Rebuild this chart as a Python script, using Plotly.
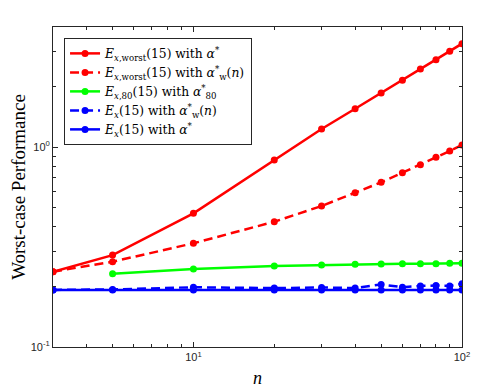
import plotly.graph_objects as go

n = [3, 5, 10, 20, 30, 40, 50, 60, 70, 80, 90, 100]
n_80 = n[1:]

worst_alpha_star = [0.238, 0.288, 0.466, 0.861, 1.23, 1.554, 1.862, 2.155, 2.455, 2.733, 3.01, 3.285]
worst_alpha_w = [0.238, 0.267, 0.330, 0.423, 0.507, 0.591, 0.666, 0.744, 0.816, 0.888, 0.955, 1.023]
e80_alpha_80 = [0.2325, 0.2455, 0.254, 0.257, 0.259, 0.260, 0.261, 0.261, 0.261, 0.262, 0.262]
ex_alpha_w = [0.193, 0.194, 0.199, 0.197, 0.1985, 0.197, 0.2055, 0.199, 0.202, 0.203, 0.202, 0.207]
ex_alpha_star = [0.193, 0.193, 0.193, 0.193, 0.193, 0.193, 0.193, 0.193, 0.193, 0.193, 0.193, 0.193]

names = [
    "<i>E</i><sub><i>x</i>,worst</sub>(15) with <i>α</i><sup>*</sup>",
    "<i>E</i><sub><i>x</i>,worst</sub>(15) with <i>α</i><sup>*</sup><sub>w</sub>(<i>n</i>)",
    "<i>E</i><sub><i>x</i>,80</sub>(15) with <i>α</i><sup>*</sup><sub>80</sub>",
    "<i>E</i><sub><i>x</i></sub>(15) with <i>α</i><sup>*</sup><sub>w</sub>(<i>n</i>)",
    "<i>E</i><sub><i>x</i></sub>(15) with <i>α</i><sup>*</sup>",
]

DASH = "9px,5px"
series = [
    (n, worst_alpha_star, "#ff0000", "solid"),
    (n, worst_alpha_w, "#ff0000", DASH),
    (n_80, e80_alpha_80, "#00ff00", "solid"),
    (n, ex_alpha_w, "#0000ff", DASH),
    (n, ex_alpha_star, "#0000ff", "solid"),
]

fig = go.Figure()
for (xs, ys, col, dash), name in zip(series, names):
    fig.add_trace(go.Scatter(
        x=xs, y=ys, name=name, mode="lines+markers",
        line=dict(color=col, width=2.5, dash=dash),
        marker=dict(color=col, size=7),
    ))

axis_col = "#262626"
minor_x = [4, 5, 6, 7, 8, 9, 20, 30, 40, 50, 60, 70, 80, 90]
minor_y = [0.2, 0.3, 0.4, 0.5, 0.6, 0.7, 0.8, 0.9, 2, 3, 4]

fig.update_xaxes(
    type="log", range=[0.4771, 2], showgrid=False, zeroline=False,
    showline=True, linecolor=axis_col, linewidth=1, mirror="allticks",
    ticks="inside", ticklen=5, tickcolor=axis_col,
    tickmode="array", tickvals=[10, 100], ticktext=["10<sup>1</sup>", "10<sup>2</sup>"],
    tickfont=dict(family="Liberation Sans", size=11, color=axis_col),
    minor=dict(tickmode="array", tickvals=minor_x, ticks="inside", ticklen=3, tickcolor=axis_col),
    title=dict(text="<i>n</i>", font=dict(family="Liberation Serif", size=18, color="black"), standoff=9),
)
fig.update_yaxes(
    type="log", range=[-1, 0.6], showgrid=False, zeroline=False,
    showline=True, linecolor=axis_col, linewidth=1, mirror="allticks",
    ticks="inside", ticklen=5, tickcolor=axis_col,
    tickmode="array", tickvals=[0.1, 1], ticktext=["10<sup>-1</sup>", "10<sup>0</sup>"],
    tickfont=dict(family="Liberation Sans", size=11, color=axis_col),
    minor=dict(tickmode="array", tickvals=minor_y, ticks="inside", ticklen=3, tickcolor=axis_col),
    title=dict(text="Worst-case Performance", font=dict(family="Liberation Serif", size=19, color="black"), standoff=11),
)

# page body has an 8px margin, so the figure is 8px smaller and margins reduced
fig.update_layout(
    width=490, height=384,
    margin=dict(l=45, r=36, t=19, b=45, autoexpand=False),
    paper_bgcolor="white", plot_bgcolor="white",
    legend=dict(
        x=0.027, y=0.966, xanchor="left", yanchor="top",
        bordercolor=axis_col, borderwidth=1, bgcolor="white",
        font=dict(family="DejaVu Serif", size=12.3, color="black"),
        tracegroupgap=0, itemwidth=30,
    ),
    showlegend=True,
)

fig.write_html("out.html")
